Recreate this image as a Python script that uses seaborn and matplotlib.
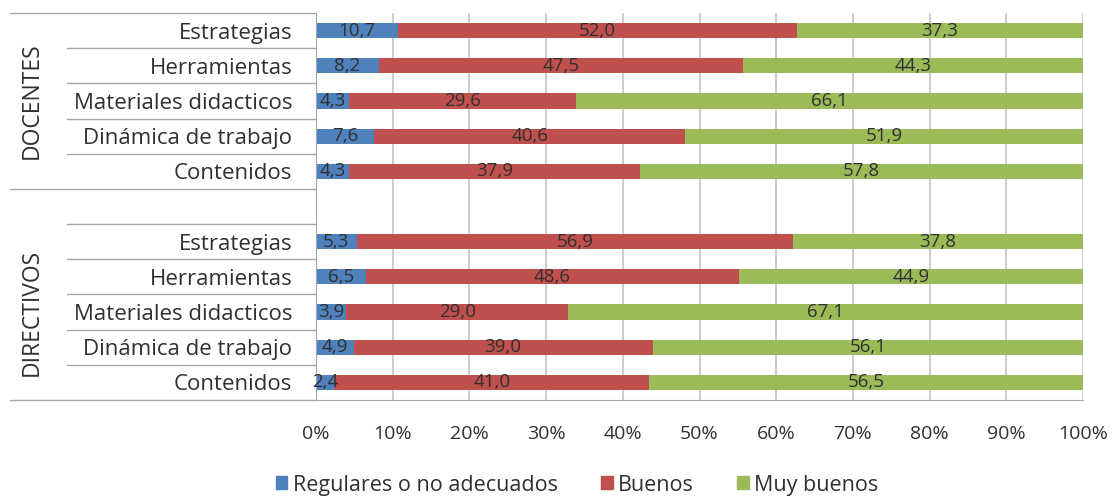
import numpy as np
import pandas as pd
import matplotlib
matplotlib.use("Agg")
import matplotlib.pyplot as plt
import matplotlib.transforms as mtransforms
import seaborn as sns

# ==========================================
# Data
# ==========================================
ITEMS = ["Estrategias", "Herramientas", "Materiales didacticos",
         "Dinámica de trabajo", "Contenidos"]
GROUPS = ["DOCENTES", "DIRECTIVOS"]
SERIES = ["Regulares o no adecuados", "Buenos", "Muy buenos"]
COLORS = ["#4F81BD", "#C0504D", "#9BBB59"]

docentes_regulares = [10.7, 8.2, 4.3, 7.6, 4.3]
docentes_buenos = [52.0, 47.5, 29.6, 40.6, 37.9]
docentes_muy_buenos = [37.3, 44.3, 66.1, 51.9, 57.8]

directivos_regulares = [5.3, 6.5, 3.9, 4.9, 2.4]
directivos_buenos = [56.9, 48.6, 29.0, 39.0, 41.0]
directivos_muy_buenos = [37.8, 44.9, 67.1, 56.1, 56.5]

X_TICKS = [0, 10, 20, 30, 40, 50, 60, 70, 80, 90, 100]

TEXT_COLOR = "#303030"

# ==========================================
# Build long table
# ==========================================
rows = []
for group, vals in zip(GROUPS, [
        (docentes_regulares, docentes_buenos, docentes_muy_buenos),
        (directivos_regulares, directivos_buenos, directivos_muy_buenos)]):
    for i, item in enumerate(ITEMS):
        v = [vals[0][i], vals[1][i], vals[2][i]]
        total = sum(v)
        rows.append({"key": f"{group}|{item}", "item": item,
                     "r": v[0], "b": v[1], "m": v[2],
                     "p_r": v[0] / total * 100,
                     "p_b": v[1] / total * 100,
                     "p_m": v[2] / total * 100})
df = pd.DataFrame(rows)
df["c1"] = df["p_r"]
df["c2"] = df["p_r"] + df["p_b"]
df["c3"] = df["c2"] + df["p_m"]

order = [f"DOCENTES|{i}" for i in ITEMS] + ["gap"] + [f"DIRECTIVOS|{i}" for i in ITEMS]

# ==========================================
# Plot
# ==========================================
sns.set_style("white")
plt.rcParams["font.family"] = ["Open Sans", "DejaVu Sans"]

fig = plt.figure(figsize=(11.16, 4.98), dpi=100)
ax = fig.add_axes([316 / 1116, 1 - 400 / 498, (1083 - 316) / 1116, 387 / 498])

BAR_H = 0.43
for col, color in zip(["c3", "c2", "c1"], COLORS[::-1]):
    sns.barplot(data=df, x=col, y="key", order=order, orient="h",
                color=color, width=BAR_H, saturation=1, ax=ax,
                edgecolor="none", linewidth=0)

# data labels
pos = {k: i for i, k in enumerate(order)}
for _, row in df.iterrows():
    y = pos[row["key"]]
    starts = [0, row["c1"], row["c2"]]
    widths = [row["p_r"], row["p_b"], row["p_m"]]
    raw = [row["r"], row["b"], row["m"]]
    for s, w, v in zip(starts, widths, raw):
        ax.text(s + w / 2, y, f"{v:.1f}".replace(".", ","),
                ha="center", va="center", fontsize=13.5, color=TEXT_COLOR)

ax.set_xlim(0, 100)
ax.set_ylim(len(order) - 0.5, -0.5)
ax.set_xticks(X_TICKS)
ax.set_xticklabels([f"{t}%" for t in X_TICKS], fontsize=14, color=TEXT_COLOR)
ax.set_yticks(range(len(order)))
ax.set_yticklabels([k.split("|")[1] if "|" in k else "" for k in order],
                   fontsize=16, color=TEXT_COLOR)
ax.tick_params(axis="y", length=0, pad=17)
ax.tick_params(axis="x", length=6, color="#a6a6a6", direction="out", pad=12)
ax.set_xlabel("")
ax.set_ylabel("")

# gridlines
ax.grid(False)
for t in X_TICKS[1:]:
    ax.axvline(t, color="#c8c8c8", lw=1.3, zorder=0.5)
ax.set_axisbelow(True)
for side in ["top", "right"]:
    ax.spines[side].set_visible(False)
ax.spines["left"].set_color("#a6a6a6")
ax.spines["bottom"].set_color("#a6a6a6")

# category separators in the label area
trans = mtransforms.blended_transform_factory(ax.transAxes, ax.transData)
x_outer = (10 - 316) / (1083 - 316)
x_inner = (67 - 316) / (1083 - 316)
for y in [-0.5, 4.5, 10.5]:
    ax.plot([x_outer, 0], [y, y], color="#a6a6a6", lw=1, transform=trans, clip_on=False)
for y in [0.5, 1.5, 2.5, 3.5, 5.5, 6.5, 7.5, 8.5, 9.5]:
    ax.plot([x_inner, 0], [y, y], color="#a6a6a6", lw=1, transform=trans, clip_on=False)

# group labels
x_grp = (32 - 316) / (1083 - 316)
ax.text(x_grp, 2, "DOCENTES", rotation=90, ha="center", va="center",
        fontsize=16.5, color=TEXT_COLOR, transform=trans)
ax.text(x_grp, 8, "DIRECTIVOS", rotation=90, ha="center", va="center",
        fontsize=16.5, color=TEXT_COLOR, transform=trans)

# legend
handles = [plt.Rectangle((0, 0), 1, 1, color=c) for c in COLORS]
fig.legend(handles, SERIES, loc="center", bbox_to_anchor=(577 / 1116, 1 - 485 / 498),
           ncol=3, frameon=False, fontsize=15.5, handlelength=0.55, handleheight=0.55,
           handletextpad=0.25, columnspacing=2.0, labelcolor=TEXT_COLOR)

fig.savefig("out.png", dpi=100)
